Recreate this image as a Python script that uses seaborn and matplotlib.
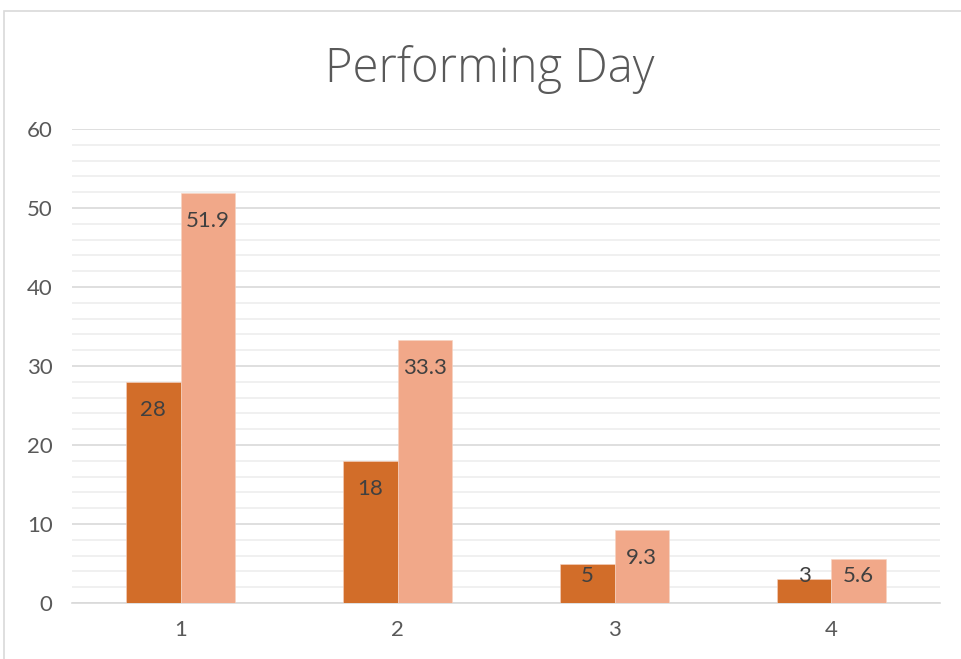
import matplotlib
matplotlib.use("Agg")
import matplotlib.pyplot as plt
from matplotlib.patches import Rectangle
from matplotlib.ticker import MultipleLocator
import seaborn as sns
import pandas as pd

# Chart data
categories = ["1", "2", "3", "4"]
count_values = [28, 18, 5, 3]
percent_values = [51.9, 33.3, 9.3, 5.6]
series_names = ["Count", "Percent"]
title_text = "Performing Day"

dark_orange = "#D26D29"
light_salmon = "#F1A889"
text_gray = "#595959"
label_gray = "#404040"

df = pd.DataFrame({
    "day": categories * 2,
    "value": count_values + percent_values,
    "series": [series_names[0]] * len(categories) + [series_names[1]] * len(categories),
})

sns.set_theme(style="white")
plt.rcParams["font.family"] = ["Lato", "DejaVu Sans"]

fig = plt.figure(figsize=(9.62, 6.59), dpi=100)
ax = fig.add_axes([72 / 962, 1 - 603 / 659, (940 - 72) / 962, (603 - 129) / 659])

# outer chart frame
fig.patches.append(Rectangle((4 / 962, -0.1), 1.2, 1 - 11 / 659 + 0.1,
                             transform=fig.transFigure, fill=False,
                             edgecolor="#D9D9D9", linewidth=1.2, zorder=0))

sns.barplot(data=df, x="day", y="value", hue="series", order=categories,
            hue_order=series_names, palette=[dark_orange, light_salmon],
            width=0.5, gap=0, dodge=True, legend=False, ax=ax,
            edgecolor="#F6D3C2", linewidth=0.4, saturation=1, zorder=3)

ax.set_ylim(0, 60)
ax.yaxis.set_major_locator(MultipleLocator(10))
ax.yaxis.set_minor_locator(MultipleLocator(2))
ax.grid(axis="y", which="major", color="#D9D9D9", linewidth=1.2, zorder=0)
ax.grid(axis="y", which="minor", color="#EDEDED", linewidth=1.2, zorder=0)
ax.set_axisbelow(True)
for side in ["left", "right", "top"]:
    ax.spines[side].set_visible(False)
ax.spines["bottom"].set_color("#D9D9D9")
ax.spines["bottom"].set_linewidth(1.2)
ax.tick_params(axis="both", which="both", length=0, labelsize=16, colors=text_gray)
ax.tick_params(axis="y", pad=14)
ax.tick_params(axis="x", pad=12)
ax.set_xlabel("")
ax.set_ylabel("")

# value labels inside the top of each bar
for container in ax.containers:
    for patch in container:
        h = patch.get_height()
        y_text = max(h - 3.55, 3.45)
        ax.text(patch.get_x() + patch.get_width() / 2, y_text, f"{h:g}",
                ha="center", va="center", fontsize=16, color=label_gray, zorder=5)

fig.text(490 / 962, 1 - 70 / 659, title_text, ha="center", va="center",
         fontsize=34, color=text_gray, family=["Open Sans", "DejaVu Sans"],
         fontweight="light")

fig.savefig("out.png", dpi=100, facecolor="white")
